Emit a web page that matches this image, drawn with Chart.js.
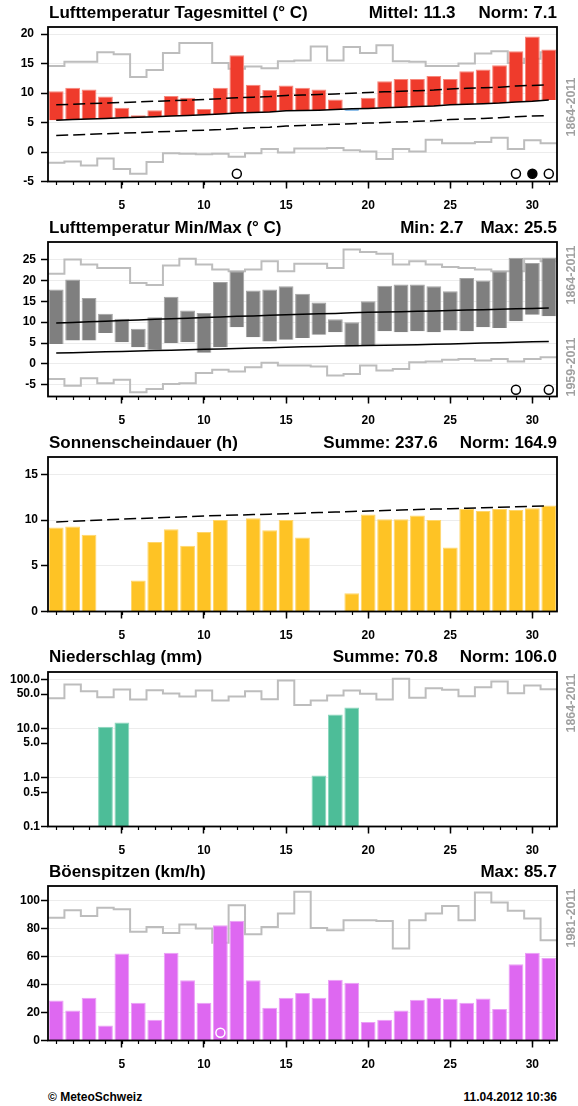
<!DOCTYPE html>
<html>
<head>
<meta charset="utf-8">
<script src="https://cdn.jsdelivr.net/npm/chart.js@4.4.1/dist/chart.umd.min.js"></script>
<style>
  body { margin: 0; background: #fff; font-family: "Liberation Sans", Arial, Helvetica, sans-serif; }
  #page { position: relative; width: 578px; height: 1106px; overflow: hidden; }
  canvas { position: absolute; left: 0; }
  .t { position: absolute; font-weight: bold; font-size: 17px; line-height: 20px; color: #000; white-space: nowrap; }
  .t.r { right: 21px; }
  .per { position: absolute; font-weight: bold; font-size: 12.5px; line-height: 14px; color: #a0a0a0; white-space: nowrap;
         transform: translate(-50%, -50%) rotate(-90deg); }
  .foot { position: absolute; top: 1090px; font-weight: bold; font-size: 12px; line-height: 14px; color: #000; }
</style>
</head>
<body>
<div id="page">
  <canvas id="c1" width="578" height="215" style="top:0px"></canvas>
  <canvas id="c2" width="578" height="215" style="top:215px"></canvas>
  <canvas id="c3" width="578" height="215" style="top:430px"></canvas>
  <canvas id="c4" width="578" height="215" style="top:645px"></canvas>
  <canvas id="c5" width="578" height="215" style="top:859px"></canvas>

  <div class="t" style="left:49px;top:3px">Lufttemperatur Tagesmittel (° C)</div>
  <div class="t r" style="top:3px"><span>Mittel: 11.3</span><span style="margin-left:23px">Norm: 7.1</span></div>
  <div class="per" style="left:571px;top:107px">1864-2011</div>

  <div class="t" style="left:49px;top:218px">Lufttemperatur Min/Max (° C)</div>
  <div class="t r" style="top:218px"><span>Min: 2.7</span><span style="margin-left:17px">Max: 25.5</span></div>
  <div class="per" style="left:571px;top:275px">1864-2011</div>
  <div class="per" style="left:571px;top:367px">1959-2011</div>

  <div class="t" style="left:49px;top:433px">Sonnenscheindauer (h)</div>
  <div class="t r" style="top:433px"><span>Summe: 237.6</span><span style="margin-left:22px">Norm: 164.9</span></div>

  <div class="t" style="left:49px;top:647px">Niederschlag (mm)</div>
  <div class="t r" style="top:647px"><span>Summe: 70.8</span><span style="margin-left:22px">Norm: 106.0</span></div>
  <div class="per" style="left:571px;top:703px">1864-2011</div>

  <div class="t" style="left:49px;top:862px">Böenspitzen (km/h)</div>
  <div class="t r" style="top:862px"><span>Max: 85.7</span></div>
  <div class="per" style="left:571px;top:918px">1981-2011</div>

  <div class="foot" style="left:48px">© MeteoSchweiz</div>
  <div class="foot" style="right:21px">11.04.2012 10:36</div>
</div>

<script>
// Tage im März
const days = [1, 2, 3, 4, 5, 6, 7, 8, 9, 10, 11, 12, 13, 14, 15, 16, 17, 18, 19, 20, 21, 22, 23, 24, 25, 26, 27, 28, 29, 30, 31];
const xTicks = [5, 10, 15, 20, 25, 30];

// Tagesmittel
const tempMean = [10.3, 10.9, 10.6, 9.4, 7.5, 6.25, 7.1, 9.5, 9.2, 7.3, 10.9, 16.4, 11.4, 10.5, 11.3, 10.9, 10.6, 8.9, 7.0, 9.2, 12.0, 12.4, 12.4, 12.9, 12.4, 13.7, 14.0, 14.7, 17.1, 19.6, 17.4];
const tempNorm = [5.4, 5.5, 5.6, 5.7, 5.8, 5.9, 6.0, 6.1, 6.2, 6.3, 6.45, 6.6, 6.7, 6.8, 7.0, 7.05, 7.1, 7.2, 7.35, 7.4, 7.5, 7.6, 7.7, 7.8, 8.0, 8.1, 8.2, 8.3, 8.5, 8.6, 8.8];
const tempNormHi = [8.0, 8.1, 8.2, 8.3, 8.4, 8.5, 8.6, 8.7, 8.8, 8.9, 9.05, 9.2, 9.3, 9.4, 9.6, 9.65, 9.75, 9.85, 9.95, 10.1, 10.2, 10.3, 10.4, 10.5, 10.7, 10.8, 10.9, 11.0, 11.2, 11.3, 11.4];
const tempNormLo = [2.8, 2.9, 3.0, 3.1, 3.2, 3.3, 3.4, 3.5, 3.6, 3.7, 3.8, 4.0, 4.1, 4.2, 4.4, 4.5, 4.6, 4.7, 4.8, 4.9, 5.0, 5.1, 5.2, 5.3, 5.5, 5.6, 5.7, 5.8, 6.0, 6.1, 6.2];
const tempRecMax = [14.6, 15.3, 15.3, 16.9, 16.6, 12.7, 13.9, 16.8, 18.5, 18.5, 15.1, 14.1, 14.5, 14.2, 15.4, 15.5, 17.9, 15.5, 17.8, 16.8, 18.1, 15.4, 15.3, 14.6, 14.6, 15.0, 16.7, 17.1, 15.1, 15.8, 16.9];
const tempRecMin = [-1.8, -1.6, -2.3, -1.1, -2.9, -3.7, -1.7, -0.2, -0.3, -0.4, -0.3, -0.8, -0.2, 0.5, -0.1, 0.6, 0.6, 0.7, 0.3, 0.1, -1.2, 0.5, 0.1, 2.1, 1.5, 1.5, 1.7, 2.4, 0.5, 2.0, 1.5];
const tempRecDays = [12, 29, 30, 31];
const tempRecAbs = [30];
const yTicksTemp = [-5, 0, 5, 10, 15, 20];

// Min / Max
const tMax = [17.8, 20.2, 15.8, 12.0, 10.8, 8.4, 11.2, 16.1, 12.8, 12.2, 19.6, 22.2, 17.6, 17.8, 18.6, 16.8, 14.7, 10.7, 10.0, 15.0, 18.7, 19.0, 19.0, 18.6, 17.4, 20.6, 20.0, 22.2, 25.4, 24.2, 25.5];
const tMin = [4.8, 5.6, 5.6, 7.4, 5.2, 4.0, 3.4, 5.0, 5.2, 2.7, 4.0, 8.8, 6.4, 5.4, 5.8, 6.2, 7.0, 7.6, 4.2, 4.4, 7.8, 7.6, 7.8, 7.6, 8.0, 7.8, 8.8, 8.6, 10.2, 11.8, 11.4];
const tMaxNorm = [9.8, 9.95, 10.1, 10.25, 10.4, 10.55, 10.7, 10.8, 10.95, 11.1, 11.25, 11.4, 11.5, 11.65, 11.8, 11.9, 12.0, 12.1, 12.25, 12.35, 12.45, 12.5, 12.6, 12.7, 12.8, 12.9, 13.0, 13.1, 13.2, 13.3, 13.4];
const tMinNorm = [2.6, 2.7, 2.8, 2.9, 3.0, 3.1, 3.2, 3.3, 3.4, 3.5, 3.6, 3.7, 3.8, 3.9, 4.0, 4.1, 4.2, 4.3, 4.35, 4.4, 4.5, 4.55, 4.6, 4.7, 4.8, 4.9, 5.0, 5.1, 5.2, 5.3, 5.4];
const tMaxRec = [21.6, 25.0, 23.8, 23.0, 23.0, 19.4, 18.9, 23.6, 25.2, 23.8, 22.6, 22.2, 22.6, 24.6, 22.2, 24.0, 24.0, 23.0, 27.4, 26.8, 26.4, 23.8, 24.6, 23.8, 23.2, 23.0, 22.6, 22.2, 22.2, 25.2, 24.6];
const tMinRec = [-3.6, -5.2, -3.4, -4.6, -3.8, -6.8, -6.0, -4.8, -4.6, -2.2, -1.4, -1.8, -0.8, 0.3, -0.4, -0.4, -0.6, -2.8, -2.4, -0.4, -1.6, -1.2, 0.4, 0.6, 1.0, 1.2, 0.8, 1.2, 0.6, 1.2, 1.6];
const tRecDays = [29, 31];
const yTicksMinMax = [-5, 0, 5, 10, 15, 20, 25];

// Sonnenschein
const sun = [9.2, 9.3, 8.4, 0, 0, 3.4, 7.6, 9.0, 7.2, 8.7, 10.0, 0, 10.2, 8.9, 10.0, 8.1, 0, 0, 2.0, 10.6, 10.1, 10.1, 10.5, 10.0, 7.0, 11.2, 11.0, 11.2, 11.1, 11.3, 11.6];
const sunPossible = [9.8, 9.88, 9.95, 10.02, 10.1, 10.17, 10.24, 10.3, 10.37, 10.45, 10.5, 10.55, 10.6, 10.65, 10.7, 10.76, 10.82, 10.88, 10.94, 11.0, 11.05, 11.1, 11.15, 11.2, 11.25, 11.3, 11.35, 11.4, 11.45, 11.5, 11.55];
const yTicksSun = [0, 5, 10, 15];

// Niederschlag
const rain = [0, 0, 0, 10.8, 13.2, 0, 0, 0, 0, 0, 0, 0, 0, 0, 0, 0, 1.1, 19.2, 26.5, 0, 0, 0, 0, 0, 0, 0, 0, 0, 0, 0, 0];
const rainRec = [41.3, 78.5, 57.4, 43.3, 62, 38.7, 60.1, 51.4, 44.7, 59.2, 37, 44.7, 57.4, 39.4, 94.8, 30.1, 37, 46.8, 59.2, 50.6, 38.7, 102.6, 41.9, 66, 61, 45.3, 69.3, 90.4, 52.2, 75, 63];
const yTicksRain = [0.1, 0.5, 1, 5, 10, 50, 100];

// Böen
const gust = [28.7, 21.5, 30.6, 10.8, 62.2, 27.0, 14.8, 62.9, 43.1, 27.0, 82.5, 85.7, 43.1, 23.4, 30.6, 34.0, 30.6, 43.5, 41.4, 13.2, 14.8, 21.5, 29.2, 30.6, 29.9, 27.0, 30.1, 22.5, 54.5, 62.9, 59.1];
const gustRec = [87.8, 93.3, 89.2, 95.0, 94.0, 77.8, 81.3, 77.0, 83.0, 80.1, 69.9, 96.9, 76.1, 81.3, 90.9, 106.5, 80.6, 78.9, 86.1, 86.1, 85.6, 65.8, 86.1, 90.9, 96.2, 86.1, 106, 98.8, 92.8, 87.3, 71.8];
const gustRecDays = [11];
const yTicksGust = [0, 20, 40, 60, 80, 100];

const FONT = '"Liberation Sans", Arial, Helvetica, sans-serif';
const tickFont = { family: FONT, size: 12, weight: 'bold' };
const GRAY = '#bdbdbd';

function pts(vals) { return days.map((d, i) => ({ x: d, y: vals[i] })); }
// Treppenlinie ueber die ganze Tagesbreite
function steps(vals) {
  const out = [];
  vals.forEach((v, i) => { out.push({ x: days[i] - 0.5, y: v }, { x: days[i] + 0.5, y: v }); });
  return out;
}
function bars(vals) { return days.map((d, i) => ({ x: d, y: vals[i] > 0 ? vals[i] : null })); }

// Reihenfolge: Marker > Normlinien > Balken > graue Rekordlinien
function stepLine(vals) {
  return { type: 'line', data: steps(vals), borderColor: GRAY, borderWidth: 2, pointRadius: 0, order: 4 };
}
function normLine(vals, dashed) {
  return { type: 'line', data: pts(vals), borderColor: '#000', borderWidth: 1.5, pointRadius: 0,
           borderDash: dashed ? [12, 5] : [], order: 1 };
}
function markers(list, level, fill, stroke) {
  return { type: 'scatter', data: list.map(d => ({ x: d, y: level })), pointRadius: 4.5, pointBorderWidth: 1.5,
           pointBorderColor: stroke, pointBackgroundColor: fill, order: 0 };
}

const frame = {
  id: 'frame',
  afterDraw(chart) {
    const { ctx, chartArea: a, scales: { x } } = chart;
    ctx.save();
    ctx.strokeStyle = '#000';
    ctx.lineWidth = 1.2;
    days.forEach(d => {
      const px = Math.round(x.getPixelForValue(d)) + 0.5;
      ctx.beginPath(); ctx.moveTo(px, a.bottom); ctx.lineTo(px, a.bottom + 3.5); ctx.stroke();
    });
    ctx.lineWidth = 1.8;
    ctx.strokeRect(a.left, a.top, a.right - a.left, a.bottom - a.top);
    ctx.restore();
  }
};

function makeChart(id, yScale, datasets) {
  return new Chart(document.getElementById(id), {
    type: 'bar',
    data: { datasets },
    options: {
      responsive: false,
      animation: false,
      layout: { padding: { top: 27, right: 21, left: 0, bottom: 0 } },
      plugins: { legend: { display: false }, tooltip: { enabled: false } },
      scales: {
        x: {
          type: 'linear', min: 0.5, max: 31.5, offset: false,
          afterBuildTicks: s => { s.ticks = xTicks.map(v => ({ value: v })); },
          afterFit: s => { s.height = 33.5; },
          grid: { drawOnChartArea: false, offset: false, tickLength: 7, tickWidth: 1.5, tickColor: '#000' },
          border: { display: false },
          ticks: { font: tickFont, color: '#000', padding: 10, maxRotation: 0, autoSkip: false }
        },
        y: Object.assign({
          afterFit: s => { s.width = 48; },
          border: { display: false },
          grid: { color: '#ececec', tickColor: '#000', tickLength: 7, tickWidth: 1.5 }
        }, yScale)
      }
    },
    plugins: [frame]
  });
}

function yLinear(min, max, ticks, pad) {
  return {
    type: 'linear', min, max,
    afterBuildTicks: s => { s.ticks = ticks.map(v => ({ value: v })); },
    ticks: { font: tickFont, color: '#000', padding: pad }
  };
}

const barStyle = { borderWidth: 1, barPercentage: 0.9, categoryPercentage: 1, order: 3 };

// 1 Tagesmittel
makeChart('c1', yLinear(-5, 21.2, yTicksTemp, 7), [
  markers(tempRecDays, -3.7, c => tempRecAbs.includes(tempRecDays[c.dataIndex]) ? '#000' : '#fff', '#000'),
  stepLine(tempRecMax),
  stepLine(tempRecMin),
  normLine(tempNorm, false),
  normLine(tempNormHi, true),
  normLine(tempNormLo, true),
  Object.assign({
    type: 'bar',
    data: days.map((d, i) => ({ x: d, y: [tempNorm[i], tempMean[i]] })),
    backgroundColor: c => tempMean[c.dataIndex] < tempNorm[c.dataIndex] ? '#3a8fd9' : '#ef3b2c',
    borderColor: c => tempMean[c.dataIndex] < tempNorm[c.dataIndex] ? '#7db6e8' : '#f7877b'
  }, barStyle)
]);

// 2 Min/Max
makeChart('c2', yLinear(-7.8, 29.2, yTicksMinMax, 5), [
  markers(tRecDays, -6.2, '#fff', '#000'),
  stepLine(tMaxRec),
  stepLine(tMinRec),
  normLine(tMaxNorm, false),
  normLine(tMinNorm, false),
  Object.assign({
    type: 'bar',
    data: days.map((d, i) => ({ x: d, y: [tMin[i], tMax[i]] })),
    backgroundColor: '#7f7f7f', borderColor: '#a3a3a3'
  }, barStyle)
]);

// 3 Sonnenschein
makeChart('c3', yLinear(0, 16.9, yTicksSun, 3), [
  normLine(sunPossible, true),
  Object.assign({ type: 'bar', data: bars(sun), backgroundColor: '#fec325', borderColor: '#ffd66a' }, barStyle)
]);

// 4 Niederschlag (log)
makeChart('c4', {
  type: 'logarithmic', min: 0.1, max: 141,
  afterBuildTicks: s => { s.ticks = yTicksRain.map(v => ({ value: v })); },
  grid: {
    color: c => (c.tick && [1, 10, 100].includes(c.tick.value)) ? '#ececec' : 'rgba(0,0,0,0)',
    tickColor: '#000', tickLength: 7, tickWidth: 1.5
  },
  ticks: { font: tickFont, color: '#000', padding: 1, callback: v => Number(v).toFixed(1) }
}, [
  stepLine(rainRec),
  Object.assign({ type: 'bar', data: bars(rain), backgroundColor: '#4dbd98', borderColor: '#8ad6bd' }, barStyle)
]);

// 5 Böenspitzen
makeChart('c5', yLinear(0, 110.6, yTicksGust, 1), [
  markers(gustRecDays, 5.5, 'rgba(0,0,0,0)', '#fff'),
  stepLine(gustRec),
  Object.assign({ type: 'bar', data: bars(gust), backgroundColor: '#de68f1', borderColor: '#eba0f6' }, barStyle)
]);
</script>
</body>
</html>
